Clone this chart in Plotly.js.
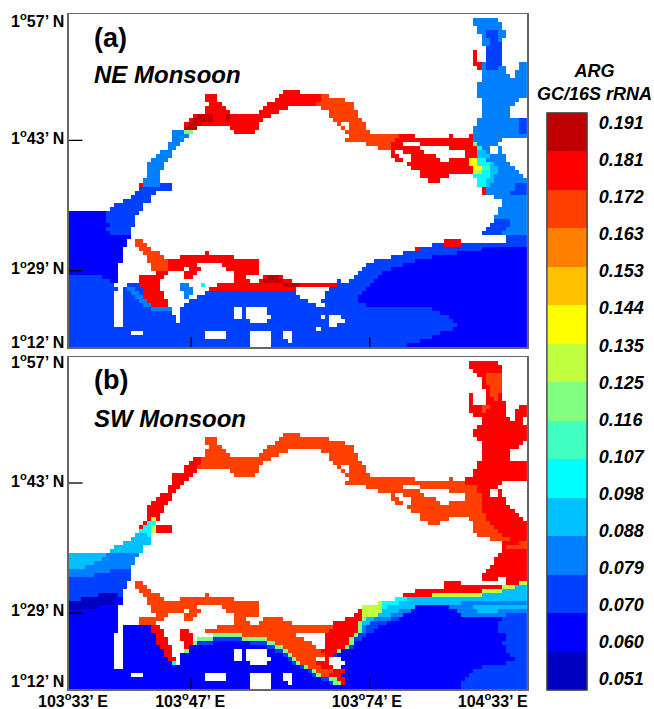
<!DOCTYPE html>
<html><head><meta charset="utf-8">
<script src="https://cdn.plot.ly/plotly-3.0.1.min.js"></script>
<style>html,body{margin:0;padding:0;background:#fff}</style></head>
<body><div id="chart" style="width:654px;height:709px"></div>
<script>
// Band letters -> ARG GC/16S rRNA band value (W = land / no data)
const bandLetters = ['a','b','c','e','f','g','h','i','j','k','l','m','n','o','p'];
const bandValues = [0.05307,0.06275,0.07243,0.08211,0.09179,0.10147,0.11115,0.12083,0.13051,0.14019,0.14987,0.15955,0.16923,0.17891,0.18859];
const bandColors = ['#0000c0','#0000ff','#0040ff','#0080ff','#00c0ff','#00ffff','#40ffc0','#80ff80','#c0ff40','#ffff00','#ffc000','#ff8000','#ff4000','#ff0000','#c00000'];
const colorbarLabels = ["0.051","0.060","0.070","0.079","0.088","0.098","0.107","0.116","0.125","0.135","0.144","0.153","0.163","0.172","0.181","0.191"];
const colorbarLabelSpots = [0.05100,0.06033,0.06967,0.07900,0.08833,0.09767,0.10700,0.11633,0.12567,0.13500,0.14433,0.15367,0.16300,0.17233,0.18167,0.19100];
const bandEdges = [0.05791,0.06759,0.07727,0.08695,0.09663,0.10631,0.11599,0.12567,0.13535,0.14503,0.15471,0.16439,0.17407,0.18375];

const lonLabels = ["103<sup>o</sup>33’ E","103<sup>o</sup>47’ E","103<sup>o</sup>74’ E","104<sup>o</sup>33’ E"];
const lonLabelCols = [0.5,28.9,71.7,102.2];
const latLabels = ["1<sup>o</sup>57’ N","1<sup>o</sup>43’ N","1<sup>o</sup>29’ N","1<sup>o</sup>12’ N"];
const latLabelRowsNE = [1.25,30.5,63,81.25];
const latLabelRowsSW = [0.75,30.5,62.75,80.5];
const lonTickCols = [29.1,72.4];
const latTickRowsNE = [31,63.5];
const latTickRowsSW = [31,63.5];

// Each row of the 111 x 83 grid: letter + column range; later runs overwrite earlier ones
const rowsNE = [
"","e98-104","e98-105","e99-105","e99-106 c101-104","e100-106 c101-104","e100-105 c102-104","e100-105 c102-105",
"c101-105","o98-99 c101-105","o98-99 c101-105","o98-99 c101-105","o98-100 e100-101 c101-105 e109-111",
"o99-100 e100-106 c101-104 e109-111","e100-106 e108-111","e100-107 e108-111","e100-111","e99-111","e99-111",
"e99-111 o52-56","e99-111 o33-36 o51-61 n61-63","e100-109 o33-36 o50-61 n61-67","e100-108 o34-37 o48-60 n60-69",
"e100-107 o33-38 o47-53 n61-69","e100-107 o33-39 o46-51 n63-70","e100-107 o30-49 p31-35 p38-39 n63-70",
"e99-111 c109-111 o29-47 p30-35 p38-39 n64-71","e99-111 c109-111 o28-46 p29-32 n65-66 n68-72",
"e98-111 c109-111 p28-31 o39-46 n66-67 n68-72","e98-111 c109-111 e25-28 i28-30 o40-45 n67-68 n68-73",
"e98-111 e25-29 n68-80 o80-84 o92-93 o97-98","e98-105 e25-28 n67-79 o79-98","e98-104 e24-27 n72-78 o78-81 o85-98 i98-99",
"e24-26 n75-78 o78-85 o92-99 g99-100 e100-102 e104-105","e22-25 o78-79 o81-86 o96-99 f99-101 e101-102 e104-105",
"e21-25 o78-80 o83-89 o96-99 f99-102 e102-106","e20-24 o79-81 o83-90 o92-97 k97-99 g99-101 e101-106",
"e19-23 o82-97 k97-99 g99-102 f102-103 e103-107","e19-23 o83-98 k98-100 h100-102 f102-104 e104-108",
"e19-22 o85-98 j98-100 g100-102 f102-104 e104-109","e19-22 o85-92 g98-102 f102-103 e103-110",
"e18-22 o87-90 g99-101 f101-103 e103-111","o17-18 e18-22 c22-25 g99-101 f101-102 e102-108 c108-111",
"c17-25 o100-101 e101-108 c108-111","c16-21 o100-101 e101-107 c107-111","c15-20 e103-111","c13-20 e105-111",
"c11-18 e105-111","c10-18 e104-111","b0-9 c9-17 e104-111","b0-9 c9-16 e103-111","b0-9 c9-16 c103-107 e107-111",
"b0-10 c10-16 c102-107 e107-111","b0-9 c9-15 c101-106 e106-111","b0-10 c10-15 c100-105 e105-111","b0-15 c106-111",
"b0-14 n16-18 o91-95 c106-111","b0-14 n16-19 c88-111 o91-95","b0-13 n17-20 c84-100 o84-85 b100-111",
"b0-13 n18-22 o33-34 c81-94 b94-111","b0-13 n19-23 o27-40 c78-88 b88-111","b0-13 n19-24 o24-46 c74-84 b84-111",
"b0-12 n20-24 o24-31 o37-46 c72-81 b81-111","b0-12 n20-24 o24-28 o29-32 o38-46 c71-78 b78-111",
"b0-12 o21-24 o28-31 o40-46 c70-76 b76-111","c0-8 b8-12 o17-23 o28-30 o40-43 o47-52 p48-51 c69-75 b75-111",
"c0-10 b10-12 o17-22 o40-44 o46-54 p47-52 c65-66 c68-74 b74-111",
"c0-11 c14-17 o17-22 e27-29 g32-33 o36-65 p52-56 c65-73 b73-111",
"c0-12 c13-18 e14-16 o18-22 e27-30 o34-55 c63-72 b72-111","c0-11 c13-18 e15-17 o18-23 e28-30 c33-55 c62-71 b71-111",
"c0-11 c13-18 e16-18 o18-23 e28-29 c31-56 c62-70 b70-111","c0-11 c13-19 e17-19 o19-24 c29-58 c61-70 b70-111",
"c0-11 c13-20 e18-20 o20-24 c28-60 c62-72 b72-111","c0-11 c13-25 e20-25 c27-88 W40-42 W43-48 b88-111",
"c0-11 c13-25 c27-90 W40-42 W43-48 b90-111","c0-11 c13-26 c27-92 W40-42 W43-49 W61-62 W63-66 b92-111",
"c0-11 c13-26 c27-93 W44-48 W63-67 b93-111","c0-11 c13-94 W63-65 b94-111","c0-93 W60-61 b93-111",
"c0-90 W15-18 W33-38 W44-49 W52-54 b90-111","c0-88 W33-38 W44-49 W52-54 b88-111","c0-85 W44-49 W53-54 b85-111",
"c0-82 W44-49 b82-111"
];
const rowsSW = [
"","o97-104","o97-105","o98-105","o99-105 n101-105","o100-101 n101-105","o100-101 n101-105","o100-102 n102-105",
"o101-102 n102-105","o97-98 o101-102 n102-104 o104-105","o97-98 o101-103 n103-104 o104-105","o97-98 o101-106",
"o97-100 n100-102 o102-106 o109-111","o97-100 n100-101 o101-106 o108-111","o98-106 o108-111","o100-107 o108-110",
"o100-110","o99-111","o98-111","o98-111 n52-56","o99-111 n33-36 n51-63","o100-110 n33-36 n50-67",
"o100-109 n34-37 n48-69","o100-107 n33-38 n47-53 n61-69","o100-107 n33-39 n46-51 n63-70",
"o100-107 o30-32 n32-49 n63-70","o99-111 o29-32 n32-47 n64-71","o99-111 o28-31 n31-46 n65-66 n68-72",
"o98-111 o28-31 n39-46 n66-67 n68-72","o98-111 o25-30 n40-45 n67-68 n68-73","o96-111 o25-29 n68-84 n92-93","o96-105 o25-28 n67-96",
"o99-104 o24-27 n72-81 n85-99","o99-102 o104-105 o24-26 n75-85 n92-99","o22-25 n78-79 n81-86 n96-100 o100-102 o104-105",
"o21-25 n78-80 n83-89 n96-100 o100-106","o20-24 n79-81 n83-90 n92-100 o100-106","o19-23 n82-100 o100-107",
"o19-23 n83-100 o100-108","o19-22 n85-101 o101-109","o19-20 j20-21 o21-22 n85-92 n97-101 o101-110",
"o18-19 g19-21 n87-90 n98-102 o102-111","o17-18 g18-20 j20-21 o21-25 n98-103 o103-111","g17-20 j20-21 o21-25 n98-104 o104-111",
"f16-19 g19-20 n99-105 o105-111","f15-20 n102-107 o107-111","f13-20 o105-109 n109-111","f11-18 o105-106 n106-111",
"f10-18 o105-111","f0-9 e9-17 o104-111","f0-8 e8-16 o103-111","f0-6 e6-16 o103-111","f0-4 e4-15 o102-111",
"e0-10 c10-15 o101-111","e0-6 c6-15 o100-111","c0-15 o100-104 o106-111","c0-14 n16-18 o91-95 o106-109 j109-111",
"c0-14 n16-19 o91-105 j105-108 f108-111","c0-13 n17-20 o84-100 j100-105 f105-111",
"c0-7 a7-12 c12-13 n18-22 n33-34 o81-88 j88-100 f100-111","c0-3 a3-11 b11-13 n19-23 n27-40 g79-82 f82-111",
"a0-11 b11-13 n19-46 j75-76 g76-80 f80-95 e95-111","a0-7 b7-12 n20-31 n37-46 j71-76 g76-77 f77-84 b84-92 e92-98 f98-111",
"b0-12 n20-28 n29-32 n38-46 o70-71 j71-76 f76-80 e80-83 b83-94 e94-99 f99-104 e104-111",
"b0-12 n21-24 n28-31 n40-46 o69-71 j71-75 f75-78 e78-81 b81-95 e95-106 c106-111",
"b0-12 n17-23 n28-30 n40-43 n47-52 o67-71 i71-72 f72-74 e74-78 c78-80 b80-105 c105-111",
"b0-12 n17-21 n40-44 n46-54 o64-70 i70-71 f71-73 c73-77 b77-104 c104-111",
"b0-12 b13-20 o20-22 n36-64 o64-70 i70-71 e71-72 c72-75 b75-104 c104-111",
"b0-12 b13-20 o20-23 o27-29 n33-63 o63-70 i70-71 e71-72 c72-74 b74-104 c104-111",
"b0-11 b13-21 o21-23 o27-30 i35-42 n42-55 o62-69 i69-70 c70-72 b72-106 c106-111",
"b0-11 b13-21 o21-24 o27-30 i31-35 c35-42 i42-48 n48-57 o62-68 i68-69 c69-71 b71-106 c106-111",
"b0-11 b13-21 o21-24 o28-30 i30-31 c31-35 b35-44 c44-48 i48-50 n50-59 o62-68 i68-69 b69-105 c105-111",
"b0-11 b13-22 o22-25 o28-29 b29-48 c48-50 i50-52 n52-60 o62-67 i67-68 c68-69 b69-106 c106-111",
"b0-11 b13-23 o23-25 i28-29 b29-50 c50-52 W40-42 W43-48 i52-53 n53-61 o61-65 i65-66 b66-106 c106-111",
"b0-11 b13-23 o23-25 b27-52 c52-53 W40-42 W43-48 i53-54 n54-62 o62-64 c64-65 b65-107 c107-111",
"b0-11 b13-24 o24-26 b27-53 c53-54 W40-42 W43-49 i54-55 n55-60 o62-63 b66-108 c108-111",
"b0-11 b13-25 g25-26 b27-54 c54-55 W44-48 i55-56 n56-60 o60-63 b67-106 c106-111",
"b0-11 b13-56 c56-57 i57-58 n58-61 o61-64 b66-100 c100-111","b0-58 c58-59 i59-60 n60-64 o64-67 b67-98 c98-111",
"b0-59 c59-60 W15-18 W33-38 W44-49 W52-54 i60-61 n61-63 o63-66 b66-97 c97-111",
"b0-61 c61-63 W33-38 W44-49 W52-54 i63-65 o65-67 b67-96 c96-111",
"b0-63 c63-64 W44-49 W53-54 i64-66 o66-67 b67-95 c95-111","b0-95 W44-49 c95-111"
];

const COLS = 111, W = 654, H = 709;
function decode(rows){
  return rows.map(function(r){
    const line = new Array(COLS).fill(null);
    r.split(' ').filter(Boolean).forEach(function(tok){
      const m = tok.match(/^([a-zA-Z])(\d+)-(\d+)$/);
      const v = m[1] === 'W' ? null : bandValues[bandLetters.indexOf(m[1])];
      for (let i = +m[2]; i < +m[3] && i < COLS; i++) line[i] = v;
    });
    return line;
  });
}
const cmin = 0.04823, cmax = 0.19343;
const scale = [];
bandColors.forEach(function(c,i){ scale.push([i/bandColors.length,c]); scale.push([(i+1)/bandColors.length,c]); });

const font = {family:'"Liberation Sans", Arial, sans-serif', color:'#000', weight:'bold'};
const px = (x)=>x/W, py = (y)=>1-y/H;
const barBase = {x:px(547), xanchor:'left', xpad:0, ypad:0, y:py(690), yanchor:'bottom', lenmode:'pixels', len:577,
  thicknessmode:'pixels', thickness:40, outlinecolor:'#444', outlinewidth:1.2};

function xAxis(show){ return {domain:[px(68.9),px(527)], range:[-0.5,110.5], showgrid:false, zeroline:false, showline:true, mirror:true,
  linecolor:'#666', linewidth:1.5, ticks:'', ticklen:0, tickmode:'array', tickvals:show?lonLabelCols:[], ticktext:show?lonLabels:[],
  tickfont:Object.assign({size:16},font), tickangle:0, fixedrange:true}; }
function yAxis(dom,rows,anchor){ return {domain:dom, range:[82.5,-0.5], showgrid:false, zeroline:false, showline:true, mirror:true,
  linecolor:'#666', linewidth:1.5, ticks:'', ticklen:0, tickmode:'array', tickvals:rows, ticktext:latLabels, anchor:anchor,
  tickfont:Object.assign({size:16},font), fixedrange:true}; }

const data = [
 {type:'heatmap', z:decode(rowsNE), xaxis:'x', yaxis:'y', coloraxis:'coloraxis', hoverongaps:false, zsmooth:false},
 {type:'heatmap', z:decode(rowsSW), xaxis:'x2', yaxis:'y2', coloraxis:'coloraxis2', hoverongaps:false, zsmooth:false}
];
const shapes = [];
function tick(xref,yref,x0,x1,y0,y1){ shapes.push({type:'line',xref:xref,yref:yref,x0:x0,x1:x1,y0:y0,y1:y1,line:{color:'#000',width:1.3}}); }
latTickRowsNE.forEach(r=>tick('x','y',-0.5,2.8,r,r));
latTickRowsSW.forEach(r=>tick('x2','y2',-0.5,2.8,r,r));
lonTickCols.forEach(c=>{ tick('x','y',c,c,82.5,80); tick('x2','y2',c,c,82.5,79.7); });

const layout = {
  width:W, height:H, margin:{l:0,r:0,t:0,b:0}, paper_bgcolor:'#fff', plot_bgcolor:'#fff', showlegend:false,
  xaxis:xAxis(false), yaxis:yAxis([py(347),py(14)],latLabelRowsNE,'x'),
  xaxis2:Object.assign(xAxis(true),{anchor:'y2',ticklabelstandoff:-3}), yaxis2:yAxis([py(689),py(357)],latLabelRowsSW,'x2'),
  coloraxis2:{colorscale:scale, cmin:cmin, cmax:cmax, colorbar:Object.assign({},barBase,{
    tickmode:'array', tickvals:colorbarLabelSpots, ticktext:colorbarLabels, ticks:'outside', ticklen:8, tickcolor:'rgba(0,0,0,0)',
    tickfont:Object.assign({size:18,style:'italic'},font)})},
  coloraxis:{colorscale:scale, cmin:cmin, cmax:cmax, colorbar:Object.assign({},barBase,{
    tickmode:'array', tickvals:bandEdges, ticks:'inside', ticklen:4, tickwidth:1.2, tickcolor:'#222', showticklabels:false})},
  shapes:shapes,
  annotations:[
    {xref:'paper',yref:'paper',x:px(92),y:py(37.5),xanchor:'left',yanchor:'middle',showarrow:false,text:'(a)',font:Object.assign({size:27},font)},
    {xref:'paper',yref:'paper',x:px(92),y:py(74),xanchor:'left',yanchor:'middle',showarrow:false,text:'NE Monsoon',font:Object.assign({size:24,style:'italic'},font)},
    {xref:'paper',yref:'paper',x:px(92),y:py(380),xanchor:'left',yanchor:'middle',showarrow:false,text:'(b)',font:Object.assign({size:27},font)},
    {xref:'paper',yref:'paper',x:px(92),y:py(418),xanchor:'left',yanchor:'middle',showarrow:false,text:'SW Monsoon',font:Object.assign({size:24,style:'italic'},font)},
    {xref:'paper',yref:'paper',x:px(594),y:py(82),xanchor:'center',yanchor:'middle',showarrow:false,text:'ARG<br>GC/16S rRNA',font:Object.assign({size:18,style:'italic'},font)}
  ]
};
Plotly.newPlot('chart',data,layout,{displayModeBar:false,staticPlot:true});
</script></body></html>
